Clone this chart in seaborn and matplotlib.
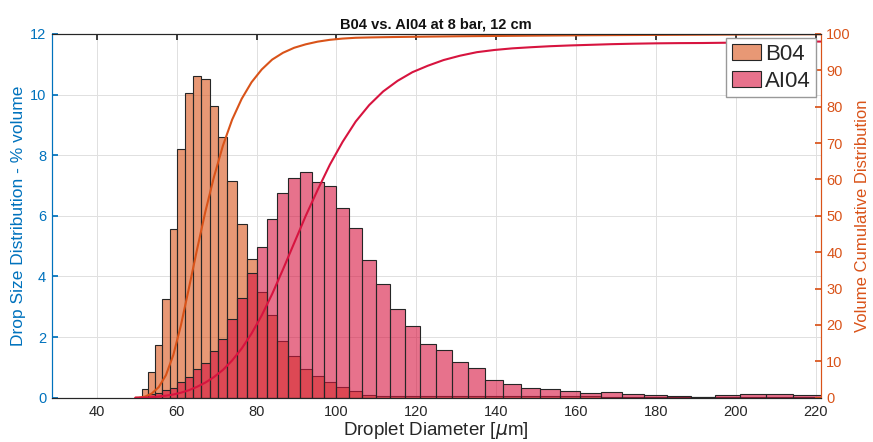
import numpy as np
import pandas as pd
import seaborn as sns
import matplotlib.pyplot as plt
from matplotlib.colors import to_rgba
from matplotlib.patches import Patch

# droplet size bins (um), log spaced as in the instrument output
bin_edges = [49.66, 51.27, 52.92, 54.63, 56.39, 58.22, 60.10, 62.04, 64.04, 66.11,
             68.24, 70.45, 72.72, 75.07, 77.50, 80.00, 82.58, 85.25, 88.00, 90.85,
             93.78, 96.81, 99.94, 103.17, 106.50, 109.94, 113.49, 117.16, 120.94, 124.85,
             128.88, 133.04, 137.34, 141.78, 146.36, 151.09, 155.97, 161.00, 166.20, 171.57,
             177.12, 182.84, 188.74, 194.84, 201.13, 207.63, 214.34, 221.26]

# % volume per bin
b04 = [0.03, 0.28, 0.86, 1.74, 3.27, 5.56, 8.19, 10.04, 10.62, 10.50,
       9.62, 8.59, 7.15, 5.72, 4.56, 3.50, 2.73, 1.87, 1.38, 0.95,
       0.73, 0.51, 0.34, 0.22, 0.09, 0.07, 0.06, 0.05, 0.05, 0.05,
       0.05, 0.04, 0.04, 0.04, 0.04, 0.04, 0.04, 0.04, 0.03, 0.03,
       0.03, 0.03, 0.03, 0.03, 0.03, 0.03, 0.03]
ai04 = [0.00, 0.03, 0.11, 0.17, 0.25, 0.31, 0.51, 0.67, 0.94, 1.16,
        1.54, 1.95, 2.60, 3.28, 4.12, 4.96, 5.91, 6.76, 7.24, 7.46,
        7.13, 6.98, 6.25, 5.59, 4.54, 3.74, 2.92, 2.38, 1.77, 1.57,
        1.19, 0.97, 0.60, 0.45, 0.31, 0.28, 0.21, 0.17, 0.18, 0.13,
        0.10, 0.06, 0.03, 0.08, 0.11, 0.13, 0.08]

x_ticks = [40, 60, 80, 100, 120, 140, 160, 180, 200, 220]

sns.set_theme(style="white")
plt.rcParams['font.family'] = ['Liberation Sans', 'DejaVu Sans']

blue = '#0072BD'
orange = '#D95319'
crimson = '#D7143F'
dark = '#262626'

edges = np.array(bin_edges)
centers = (edges[:-1] + edges[1:]) / 2
df = pd.DataFrame({'diameter': centers, 'B04': b04, 'AI04': ai04})

# cumulative volume, drawn through the bin centres
cum = pd.DataFrame({
    'diameter': np.r_[edges[0], centers, edges[-1]],
    'B04': np.r_[0, np.cumsum(b04), np.sum(b04)],
    'AI04': np.r_[0, np.cumsum(ai04), np.sum(ai04)],
})

fig = plt.figure(figsize=(8.73, 4.42), dpi=100)
ax = fig.add_axes([0.0592, 0.1002, 0.8809, 0.8229])

sns.histplot(data=df, x='diameter', weights='B04', bins=bin_edges, color=orange,
             alpha=0.6, edgecolor=dark, linewidth=0.8, ax=ax)
sns.histplot(data=df, x='diameter', weights='AI04', bins=bin_edges, color=crimson,
             alpha=0.6, edgecolor=dark, linewidth=0.8, ax=ax)

ax.set_xlim(28.7, 221.3)
ax.set_ylim(0, 12)
ax.set_xticks(x_ticks)
ax.set_yticks(range(0, 13, 2))
ax.grid(True, color='#e0e0e0', linewidth=0.7)
ax.set_axisbelow(True)
ax.tick_params(axis='x', direction='in', top=True, length=4, colors=dark, labelsize=10.5, pad=5)
ax.tick_params(axis='y', direction='in', length=4, colors=blue, labelsize=10.5, pad=4)
ax.set_xlabel('Droplet Diameter [$\\mu$m]', fontsize=13.5, color=dark, labelpad=1)
ax.set_ylabel('Drop Size Distribution - % volume', fontsize=12.5, color=blue, labelpad=3)
ax.set_title('B04 vs. AI04 at 8 bar, 12 cm', fontsize=10.5, fontweight='bold', color='#111111', pad=4)

ax2 = ax.twinx()
sns.lineplot(data=cum, x='diameter', y='B04', color=orange, linewidth=1.5, ax=ax2)
sns.lineplot(data=cum, x='diameter', y='AI04', color=crimson, linewidth=1.5, ax=ax2)
ax2.set_ylim(0, 100)
ax2.set_yticks(range(0, 101, 10))
ax2.tick_params(axis='y', direction='in', length=4, colors=orange, labelsize=10.5, pad=4)
ax2.set_ylabel('Volume Cumulative Distribution', fontsize=12, color=orange, labelpad=3)

for a in (ax, ax2):
    a.spines['left'].set_color(blue)
    a.spines['right'].set_color(orange)
    a.spines['top'].set_color(dark)
    a.spines['bottom'].set_color(dark)
    for s in a.spines.values():
        s.set_linewidth(0.8)

handles = [Patch(facecolor=to_rgba(orange, 0.6), edgecolor=dark, linewidth=0.8),
           Patch(facecolor=to_rgba(crimson, 0.6), edgecolor=dark, linewidth=0.8)]
ax2.legend(handles, ['B04', 'AI04'], loc='upper right', fontsize=16, frameon=True,
           fancybox=False, edgecolor='#999999', framealpha=1, borderaxespad=0.2,
           handlelength=1.3, handleheight=0.7, handletextpad=0.2, labelspacing=0.25,
           borderpad=0.25)

fig.savefig('out.png', dpi=100)
